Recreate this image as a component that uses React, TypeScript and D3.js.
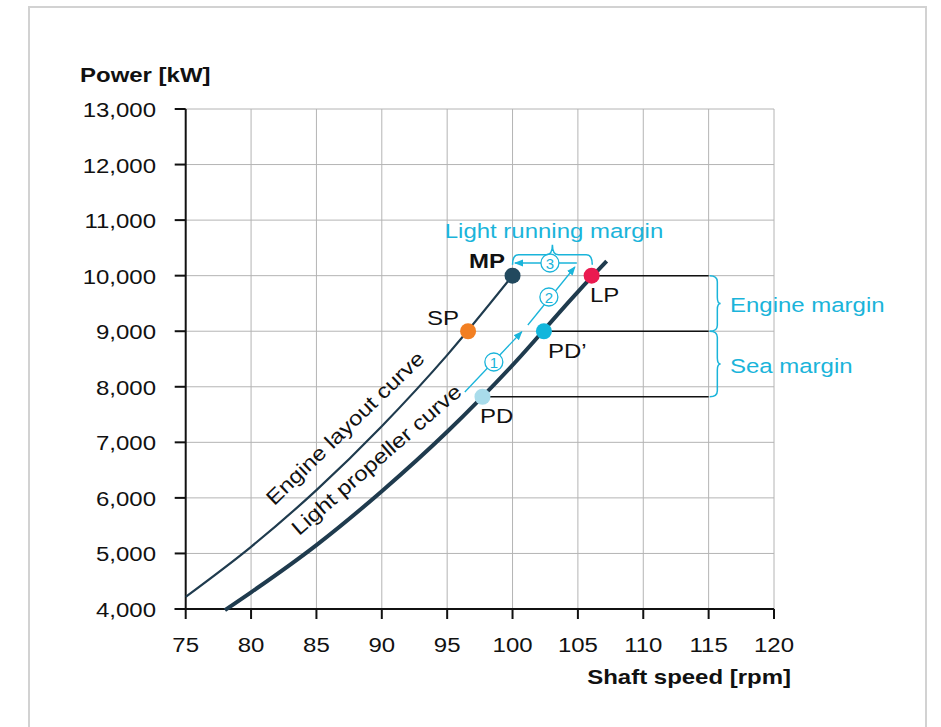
import * as d3 from "d3";
import React from "react";

// axis ticks
const xTicks = [75, 80, 85, 90, 95, 100, 105, 110, 115, 120];
const yTicks = [4000, 5000, 6000, 7000, 8000, 9000, 10000, 11000, 12000, 13000];

// curves (rpm, kW)
const engineRpm = [75, 80, 85, 90, 95, 100];
const enginePower = [4220, 5120, 6140, 7290, 8570, 10000];
const propRpm = [78, 80, 85, 90, 95, 100, 105, 107.2];
const propPower = [3980, 4300, 5150, 6120, 7190, 8390, 9710, 10260];

// operating points
const pointNames = ["MP", "SP", "PD", "PD\u2019", "LP"];
const pointRpm = [100, 96.6, 97.7, 102.4, 106.05];
const pointPower = [10000, 9000, 7820, 9000, 10000];
const pointColors = ["#22495e", "#f27f22", "#a9dceb", "#13b6dc", "#ea1a50"];

// horizontal reference lines to the margin column
const refLineStart = [106.05, 102.4, 97.7];
const refLinePower = [10000, 9000, 7820];
const refLineEnd = 115;

// arrows (from rpm, from kW, to rpm, to kW)
const arrowFromRpm = [96.35, 101.17, 104.92];
const arrowFromPower = [7906, 9112, 10228];
const arrowToRpm = [100.71, 104.77, 100.18];
const arrowToPower = [8990, 10156, 10228];
const arrowLabels = ["1", "2", "3"];
const arrowLabelRpm = [98.57, 102.78, 102.86];
const arrowLabelPower = [8446, 9616, 10228];

const CYAN = "#1ab4da";
const DARK = "#1f3b4e";
const FONT = "'Liberation Sans', Arial, Helvetica, sans-serif";
const SX = 1.17;

const x = d3.scaleLinear().domain([75, 120]).range([185.7, 774]);
const y = d3.scaleLinear().domain([4000, 13000]).range([609, 109]);

function T({ x0, y0, anchor = "start", size = 20, weight = "normal", fill = "#111", rot = 0, children }: any) {
  return (
    <text
      transform={`translate(${x0},${y0}) rotate(${rot}) scale(${SX},1)`}
      textAnchor={anchor}
      fontSize={size}
      fontWeight={weight}
      fill={fill}
      fontFamily={FONT}
    >
      {children}
    </text>
  );
}

// "}" shaped brace, vertical
function braceV(x0: number, y1: number, y2: number, d: number) {
  const mid = (y1 + y2) / 2;
  const xm = x0 + d * 0.7;
  const r = 6;
  return `M${x0},${y1} Q${xm},${y1} ${xm},${y1 + r} L${xm},${mid - r} Q${xm},${mid} ${x0 + d},${mid}` +
    ` Q${xm},${mid} ${xm},${mid + r} L${xm},${y2 - r} Q${xm},${y2} ${x0},${y2}`;
}

// brace opening downward, tip up
function braceH(x1: number, x2: number, yb: number, d: number) {
  const mid = (x1 + x2) / 2;
  const ym = yb - d * 0.5;
  const r = 6;
  return `M${x1},${yb} Q${x1},${ym} ${x1 + r},${ym} L${mid - r},${ym} Q${mid},${ym} ${mid},${yb - d}` +
    ` Q${mid},${ym} ${mid + r},${ym} L${x2 - r},${ym} Q${x2},${ym} ${x2},${yb}`;
}

export default function App() {
  const line = d3.line<[number, number]>().x((d) => x(d[0])).y((d) => y(d[1])).curve(d3.curveMonotoneX);
  const enginePath = line(engineRpm.map((r, i) => [r, enginePower[i]]) as [number, number][]) || "";
  const propPath = line(propRpm.map((r, i) => [r, propPower[i]]) as [number, number][]) || "";

  const yTop = y(13000);
  const yBot = y(4000);
  const xL = x(75);
  const xR = x(120);

  return (
    <svg width={941} height={727} style={{ position: "absolute", left: 0, top: 0, background: "#fff" }}>
      <defs>
        <marker id="arr" viewBox="0 0 10 10" refX="9" refY="5" markerWidth="9" markerHeight="9" orient="auto" markerUnits="userSpaceOnUse">
          <path d="M0,1 L10,5 L0,9 Z" fill={CYAN} />
        </marker>
      </defs>
      <rect x={29} y={7} width={897} height={740} fill="none" stroke="#d2d2d2" strokeWidth={2} />

      {/* grid */}
      {xTicks.slice(1).map((t) => (
        <line key={"gx" + t} x1={x(t)} x2={x(t)} y1={yTop} y2={yBot} stroke="#b4b4b4" strokeWidth={1} />
      ))}
      {yTicks.slice(1).map((t) => (
        <line key={"gy" + t} x1={xL} x2={xR} y1={y(t)} y2={y(t)} stroke="#b4b4b4" strokeWidth={1} />
      ))}

      {/* axes */}
      <line x1={xL} x2={xL} y1={yTop} y2={yBot} stroke="#111" strokeWidth={2} />
      <line x1={xL - 11} x2={xR} y1={yBot} y2={yBot} stroke="#111" strokeWidth={2} />
      {yTicks.map((t) => (
        <g key={"ty" + t}>
          <line x1={xL - 11} x2={xL} y1={y(t)} y2={y(t)} stroke="#111" strokeWidth={2} />
          <T x0={156} y0={y(t) + 8} anchor="end" size={20.5}>{d3.format(",")(t)}</T>
        </g>
      ))}
      {xTicks.map((t) => (
        <g key={"tx" + t}>
          <line x1={x(t)} x2={x(t)} y1={yBot} y2={yBot + 10} stroke="#111" strokeWidth={2} />
          <T x0={x(t)} y0={652} anchor="middle" size={20.5}>{t}</T>
        </g>
      ))}
      <T x0={80} y0={82} size={20.5} weight="bold">Power [kW]</T>
      <T x0={791} y0={684} anchor="end" size={20.5} weight="bold">Shaft speed [rpm]</T>

      {/* reference lines */}
      {refLineStart.map((r, i) => (
        <line key={"rl" + i} x1={x(r)} x2={x(refLineEnd)} y1={y(refLinePower[i])} y2={y(refLinePower[i])} stroke="#111" strokeWidth={1.5} />
      ))}

      {/* curves */}
      <path d={enginePath} fill="none" stroke={DARK} strokeWidth={2.2} />
      <path d={propPath} fill="none" stroke={DARK} strokeWidth={4} />
      <T x0={350} y0={433} anchor="middle" size={20.5} rot={-44}>Engine layout curve</T>
      <T x0={381} y0={465} anchor="middle" size={20.5} rot={-41}>Light propeller curve</T>

      {/* arrows */}
      {arrowFromRpm.map((r, i) => (
        <line key={"ar" + i} x1={x(r)} y1={y(arrowFromPower[i])} x2={x(arrowToRpm[i])} y2={y(arrowToPower[i])}
          stroke={CYAN} strokeWidth={1.3} markerEnd="url(#arr)" />
      ))}
      {arrowLabels.map((l, i) => (
        <g key={"al" + i}>
          <circle cx={x(arrowLabelRpm[i])} cy={y(arrowLabelPower[i])} r={9} fill="#fff" stroke={CYAN} strokeWidth={1.3} />
          <text x={x(arrowLabelRpm[i])} y={y(arrowLabelPower[i]) + 5.5} textAnchor="middle" fontSize={15} fill={CYAN} fontFamily={FONT}>{l}</text>
        </g>
      ))}

      {/* braces */}
      <path d={braceH(x(100), x(106.1), y(10000) - 11, 20)} fill="none" stroke={CYAN} strokeWidth={1.5} />
      <path d={braceV(x(115) + 1, y(10000), y(9000), 11)} fill="none" stroke={CYAN} strokeWidth={1.5} />
      <path d={braceV(x(115) + 1, y(9000), y(7820), 11)} fill="none" stroke={CYAN} strokeWidth={1.5} />
      <T x0={554} y0={238} anchor="middle" size={20.5} fill={CYAN}>Light running margin</T>
      <T x0={730} y0={312} size={20.5} fill={CYAN}>Engine margin</T>
      <T x0={730} y0={373} size={20.5} fill={CYAN}>Sea margin</T>

      {/* points */}
      {pointRpm.map((r, i) => (
        <circle key={"pt" + i} cx={x(r)} cy={y(pointPower[i])} r={8} fill={pointColors[i]} />
      ))}
      <T x0={505} y0={268} anchor="end" size={20.5} weight="bold">{pointNames[0]}</T>
      <T x0={427} y0={325} size={20.5}>{pointNames[1]}</T>
      <T x0={480} y0={423} size={20.5}>{pointNames[2]}</T>
      <T x0={548} y0={358} size={20.5}>{pointNames[3]}</T>
      <T x0={590} y0={302} size={20.5}>{pointNames[4]}</T>
    </svg>
  );
}
